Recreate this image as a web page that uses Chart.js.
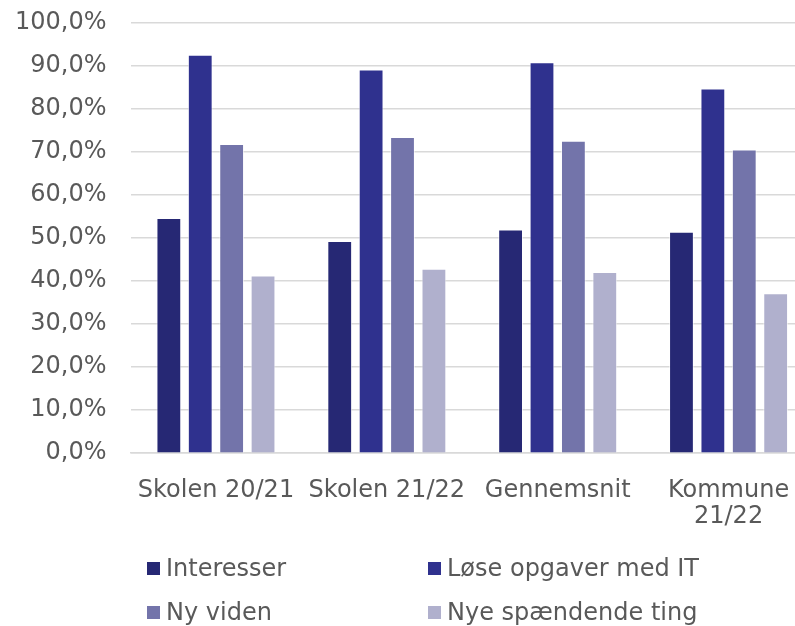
<!DOCTYPE html>
<html>
<head>
<meta charset="utf-8">
<script src="https://cdn.jsdelivr.net/npm/chart.js@4"></script>
<style>
  html, body { margin: 0; padding: 0; background: #fff; overflow: hidden; }
  .wrap { position: relative; width: 795px; height: 626px; overflow: hidden; font-family: 'DejaVu Sans', Verdana, sans-serif; }
  canvas { position: absolute; left: 0; top: 0; }
  .legend { position: absolute; left: 147px; top: 554px; width: 640px; display: grid; grid-template-columns: 281px auto; row-gap: 16px; }
  .legend-item { display: flex; align-items: center; font-size: 24px; color: #595959; line-height: 28px; height: 28px; }
  .legend-item i { display: inline-block; width: 13px; height: 13px; margin-right: 6px; }
</style>
</head>
<body>
<div class="wrap">
  <canvas id="chart" width="815" height="626"></canvas>
  <div class="legend" data-legend></div>
</div>
<script>
const categories = ['Skolen 20/21', 'Skolen 21/22', 'Gennemsnit', ['Kommune', '21/22']];
const seriesNames = ['Interesser', 'Løse opgaver med IT', 'Ny viden', 'Nye spændende ting'];
const interesser = [54.7, 49.3, 52.0, 51.5];
const loseOpgaver = [92.6, 89.2, 90.9, 84.8];
const nyViden = [71.9, 73.5, 72.6, 70.6];
const nyeTing = [41.3, 42.9, 42.1, 37.2];
const colors = ['#262874', '#2F318E', '#7374AA', '#B0B0CD'];

const seriesValues = [interesser, loseOpgaver, nyViden, nyeTing];
const fmtPct = (v) => v.toFixed(1).replace('.', ',') + '%';
const tickFont = { family: 'DejaVu Sans', size: 24 };

// Chart.js reserverer ekstra plads omkring labels (padding to gange + kanter);
// her skal kun den ene side med
const trimAxis = (scale) => {
  scale.paddingLeft = 0;
  scale.paddingRight = 0;
  scale.paddingTop = 0;
  scale.paddingBottom = 0;
  const pad = scale.options.ticks.padding;
  if (scale.isHorizontal()) scale.height -= pad;
  else scale.width -= pad;
};

const chart = new Chart(document.getElementById('chart'), {
  type: 'bar',
  data: {
    labels: categories,
    datasets: seriesNames.map((name, i) => ({
      label: name,
      data: seriesValues[i],
      backgroundColor: colors[i],
      borderColor: 'rgba(255,255,255,0.6)',
      borderWidth: 1,
      categoryPercentage: 0.735,
      barPercentage: 0.79,
    })),
  },
  options: {
    responsive: false,
    animation: false,
    layout: { padding: { left: 15, right: 1, top: 23, bottom: 96 } },
    plugins: { legend: { display: false }, tooltip: { enabled: false } },
    scales: {
      x: {
        afterFit: trimAxis,
        grid: { display: false, drawTicks: false },
        border: { color: '#d9d9d9', width: 1.5 },
        ticks: { color: '#595959', font: { ...tickFont, lineHeight: 1.1 }, padding: 24, maxRotation: 0, autoSkip: false },
      },
      y: {
        afterFit: trimAxis,
        min: 0,
        max: 100,
        grid: { color: '#d9d9d9', lineWidth: 1.5, drawTicks: false },
        border: { display: false },
        ticks: { stepSize: 10, color: '#595959', font: tickFont, padding: 24, callback: (v) => fmtPct(v) },
      },
    },
  },
});

// legende i to kolonner under grafen
const legendEl = document.querySelector('[data-legend]');
chart.data.datasets.forEach((ds) => {
  const item = document.createElement('div');
  item.className = 'legend-item';
  const sw = document.createElement('i');
  sw.style.background = ds.backgroundColor;
  item.appendChild(sw);
  item.appendChild(document.createTextNode(ds.label));
  legendEl.appendChild(item);
});
</script>
</body>
</html>
